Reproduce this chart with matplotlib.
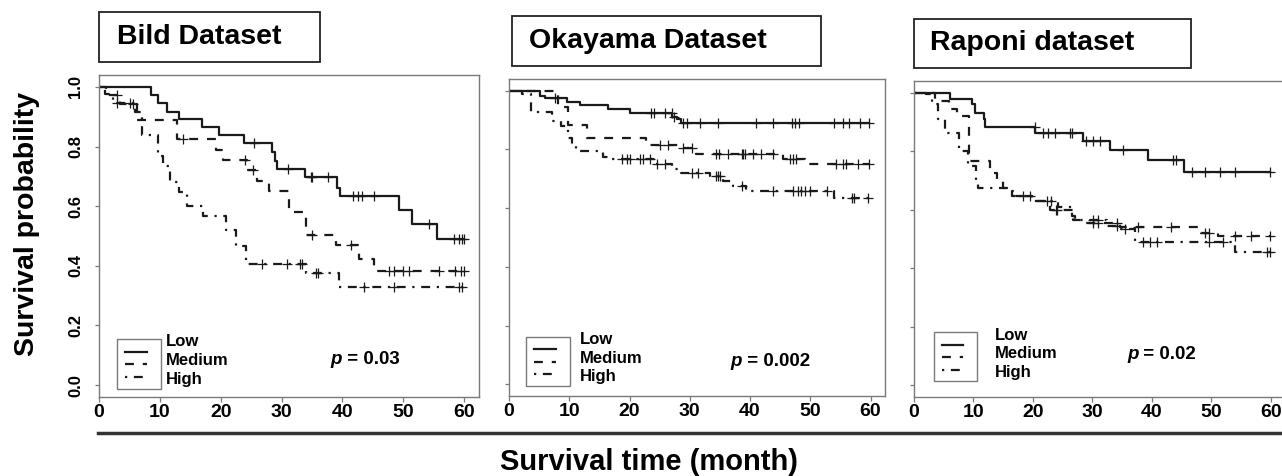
import numpy as np
import matplotlib
matplotlib.use("Agg")
import matplotlib.pyplot as plt
from matplotlib.patches import Rectangle
from matplotlib.lines import Line2D

plt.rcParams['font.family'] = ['Liberation Sans', 'DejaVu Sans']
plt.rcParams['font.weight'] = 'bold'

# ---- data (time in months, survival probability) ----
# step times / survival after each step, and censoring times
bild_low_t = [0, 8.6, 9.7, 11.2, 13.2, 16.9, 19.8, 23.8, 28.4, 28.9, 29.2, 33.8, 39.2, 39.6, 49.3, 51.4, 55.5]
bild_low_s = [1.0, 0.972, 0.947, 0.916, 0.891, 0.866, 0.838, 0.812, 0.782, 0.751, 0.726, 0.698, 0.662, 0.633, 0.586, 0.539, 0.490]
bild_low_c = [25.5, 31.1, 34.9, 35.0, 37.6, 41.7, 42.5, 43.3, 45.2, 54.3, 58.4, 59.2, 59.6, 60.0]

bild_med_t = [0, 1.2, 3.5, 6.3, 12.8, 19.3, 20.4, 24.3, 26.0, 28.0, 31.2, 34.0, 39.0, 42.7, 45.2]
bild_med_s = [1.0, 0.972, 0.944, 0.888, 0.824, 0.79, 0.756, 0.72, 0.686, 0.65, 0.58, 0.505, 0.47, 0.423, 0.382]
bild_med_c = [2.9, 5.6, 13.8, 24.0, 25.3, 35.0, 41.4, 47.7, 48.5, 49.9, 51.0, 55.9, 58.6, 59.5, 60.0]

bild_high_t = [0, 1.0, 2.3, 5.9, 7.0, 9.7, 10.5, 11.6, 13.2, 14.4, 17.1, 20.9, 22.5, 24.2, 34.0, 39.5]
bild_high_s = [1.0, 0.975, 0.947, 0.915, 0.838, 0.77, 0.735, 0.68, 0.647, 0.60, 0.568, 0.52, 0.465, 0.405, 0.375, 0.33]
bild_high_c = [2.9, 5.1, 26.8, 30.9, 33.0, 33.3, 35.7, 36.0, 43.6, 48.5, 59.2, 59.7]

oka_low_t = [0, 5.1, 6.0, 9.7, 11.7, 16.5, 20.1, 27.1, 27.9, 28.5]
oka_low_s = [1.0, 0.983, 0.974, 0.963, 0.951, 0.937, 0.923, 0.912, 0.903, 0.891]
oka_low_c = [7.6, 23.6, 24.0, 25.9, 27.0, 27.3, 28.9, 29.6, 31.7, 34.7, 41.0, 43.8, 46.9, 47.4, 48.2,
             54.0, 55.4, 56.5, 58.2, 59.8]

oka_med_t = [0, 8.2, 9.8, 12.9, 22.8, 28.3, 31.1, 45.5, 49.1]
oka_med_s = [1.0, 0.945, 0.882, 0.84, 0.814, 0.806, 0.783, 0.768, 0.749]
oka_med_c = [25.0, 26.4, 28.9, 30.3, 34.4, 34.9, 36.4, 38.6, 38.9, 39.1, 40.5, 41.9, 43.8, 46.6, 47.1,
             47.7, 54.3, 55.4, 56.0, 57.9, 59.8]

oka_high_t = [0, 2.1, 3.6, 7.1, 8.7, 9.8, 10.4, 11.2, 15.6, 16.5, 24.2, 27.0, 28.6, 33.3, 35.5, 37.2, 39.4, 54.0]
oka_high_s = [1.0, 0.99, 0.926, 0.897, 0.88, 0.84, 0.811, 0.794, 0.775, 0.766, 0.751, 0.734, 0.72, 0.709,
              0.691, 0.677, 0.657, 0.634]
oka_high_c = [18.7, 19.5, 20.1, 21.7, 22.3, 23.4, 24.5, 25.9, 30.3, 31.4, 34.4, 34.7, 35.0, 38.6, 43.8,
              47.1, 48.0, 48.5, 49.1, 49.9, 52.7, 57.0, 57.3, 59.6]

rap_low_t = [0, 6.1, 9.7, 10.3, 11.7, 12.0, 20.4, 28.5, 32.9, 39.3, 45.4]
rap_low_s = [1.0, 0.977, 0.96, 0.931, 0.909, 0.883, 0.861, 0.834, 0.803, 0.769, 0.728]
rap_low_c = [20.3, 21.7, 22.6, 23.7, 26.2, 26.5, 29.0, 30.1, 31.3, 35.2, 43.6, 44.1, 46.7, 48.9, 51.4,
             54.0, 59.8]

rap_med_t = [0, 3.5, 5.9, 7.3, 9.3, 12.8, 13.9, 15.0, 16.5, 19.8, 22.9, 26.8, 28.7, 34.6, 48.3, 51.1]
rap_med_s = [1.0, 0.97, 0.945, 0.92, 0.766, 0.726, 0.70, 0.675, 0.648, 0.629, 0.60, 0.566, 0.554, 0.541,
             0.52, 0.511]
rap_med_c = [23.8, 24.1, 30.1, 31.0, 34.1, 37.6, 43.2, 48.9, 49.7, 54.0, 56.7, 59.8]

rap_high_t = [0, 2.1, 3.1, 4.1, 5.2, 7.6, 9.0, 10.5, 10.8, 16.1, 16.8, 19.9, 24.3, 26.5, 27.1, 32.4,
              34.6, 37.1, 54.0]
rap_high_s = [1.0, 0.994, 0.96, 0.909, 0.863, 0.80, 0.749, 0.70, 0.674, 0.663, 0.648, 0.629, 0.611,
              0.577, 0.566, 0.543, 0.534, 0.491, 0.457]
rap_high_c = [18.4, 19.5, 22.3, 23.0, 30.1, 31.0, 34.1, 35.5, 38.5, 39.7, 40.8, 49.7, 52.0, 59.3, 59.8]

titles = ["Bild Dataset", "Okayama Dataset", "Raponi dataset"]
pvals = ["0.03", "0.002", "0.02"]
groups = ["Low", "Medium", "High"]
x_ticks = [0, 10, 20, 30, 40, 50, 60]
y_ticks = [0.0, 0.2, 0.4, 0.6, 0.8, 1.0]

curves = [
    [(bild_low_t, bild_low_s, bild_low_c), (bild_med_t, bild_med_s, bild_med_c),
     (bild_high_t, bild_high_s, bild_high_c)],
    [(oka_low_t, oka_low_s, oka_low_c), (oka_med_t, oka_med_s, oka_med_c),
     (oka_high_t, oka_high_s, oka_high_c)],
    [(rap_low_t, rap_low_s, rap_low_c), (rap_med_t, rap_med_s, rap_med_c),
     (rap_high_t, rap_high_s, rap_high_c)],
]

# ---- layout in pixels ----
W, H = 1282, 476
fig = plt.figure(figsize=(W / 100, H / 100), dpi=100)

# left, top, right, bottom of each plotting box
boxes = [(99, 75, 478.6, 397), (509, 79, 885, 396), (914, 81, 1285, 397)]
title_boxes = [(99, 12, 320, 62, 117), (512, 16, 821, 66, 529), (914, 19, 1191, 68, 930)]
# legend box x0, y0 and label x (axes fraction)
legend_pos = [(0.047, 0.025, 0.177), (0.045, 0.032, 0.189), (0.054, 0.05, 0.218)]
pval_pos = [(0.61, 0.115), (0.59, 0.11), (0.574, 0.133)]

styles = ['-', (0, (4, 4)), (0, (1, 3, 4, 3))]
ink = '#1a1a1a'
frame = '#7a7a7a'


def fx(px):
    return px / W


def fy(py):
    return 1 - py / H


for i in range(3):
    l, t, r, b = boxes[i]
    ax = fig.add_axes([fx(l), fy(b), (r - l) / W, (b - t) / H])
    ax.set_xlim(0, 62.4)
    ax.set_ylim(-0.04, 1.04)

    for (tt, ss, cc), ls in zip(curves[i], styles):
        tt = np.array(tt)
        ss = np.array(ss)
        cc = np.array(cc)
        end = max(tt[-1], cc.max())
        ax.step(np.append(tt, end), np.append(ss, ss[-1]), where='post',
                color=ink, lw=1.6, linestyle=ls)
        cy = ss[np.searchsorted(tt, cc, side='right') - 1]
        ax.plot(cc, cy, linestyle='none', marker='+', ms=6.5, mew=0.9, color=ink)

    for sp in ax.spines.values():
        sp.set_color(frame)
        sp.set_linewidth(1.0)
    ax.set_xticks(x_ticks)
    ax.set_yticks(y_ticks)
    ax.tick_params(axis='both', direction='out', color=frame, width=0.9)
    ax.tick_params(axis='x', length=3.8, pad=1.5, labelsize=14)
    if i == 0:
        ax.tick_params(axis='y', length=3.0, pad=8.5, labelsize=12, labelrotation=90)
        ax.set_yticklabels([f"{v:.1f}" for v in y_ticks])
        for lab in ax.get_yticklabels():
            lab.set_va('center')
    else:
        ax.tick_params(axis='y', length=3.0, labelleft=False)

    # legend drawn as in the original (labels outside the little box)
    x0, y0, tx = legend_pos[i]
    ax.add_patch(Rectangle((x0, y0), 0.116, 0.155, transform=ax.transAxes,
                           fill=False, edgecolor=frame, lw=1.0))
    for k, (g, ls) in enumerate(zip(groups, styles)):
        ly = y0 + 0.115 - k * 0.039
        ax.add_line(Line2D([x0 + 0.021, x0 + 0.079], [ly, ly], transform=ax.transAxes,
                           color=ink, lw=1.6, linestyle=ls))
        ax.text(tx, y0 + 0.146 - k * 0.059, g, transform=ax.transAxes,
                fontsize=12, ha='left', va='center')

    px_, py_ = pval_pos[i]
    ptxt = ax.text(px_, py_, "p", transform=ax.transAxes, fontsize=13.5,
                   style='italic', ha='left', va='center')
    ax.annotate(" = " + pvals[i], xy=(1, 0), xycoords=ptxt, fontsize=13.5,
                ha='left', va='bottom')

    # dataset title box
    bl, bt, br, bb, btx = title_boxes[i]
    fig.patches.append(Rectangle((fx(bl), fy(bb)), (br - bl) / W, (bb - bt) / H,
                                 transform=fig.transFigure, fill=False,
                                 edgecolor='#222222', lw=1.3))
    fig.text(fx(btx), fy((bt + bb) / 2), titles[i], fontsize=20.5,
             ha='left', va='center')

fig.add_artist(Line2D([fx(98), 1.0], [fy(433), fy(433)], transform=fig.transFigure,
                      color='#333333', lw=2.5))
fig.text(fx(649), fy(462), "Survival time (month)", fontsize=21, ha='center', va='center')
fig.text(fx(27), fy(224), "Survival probability", fontsize=20.5, rotation=90,
         ha='center', va='center')

fig.savefig("out.png", dpi=100)
